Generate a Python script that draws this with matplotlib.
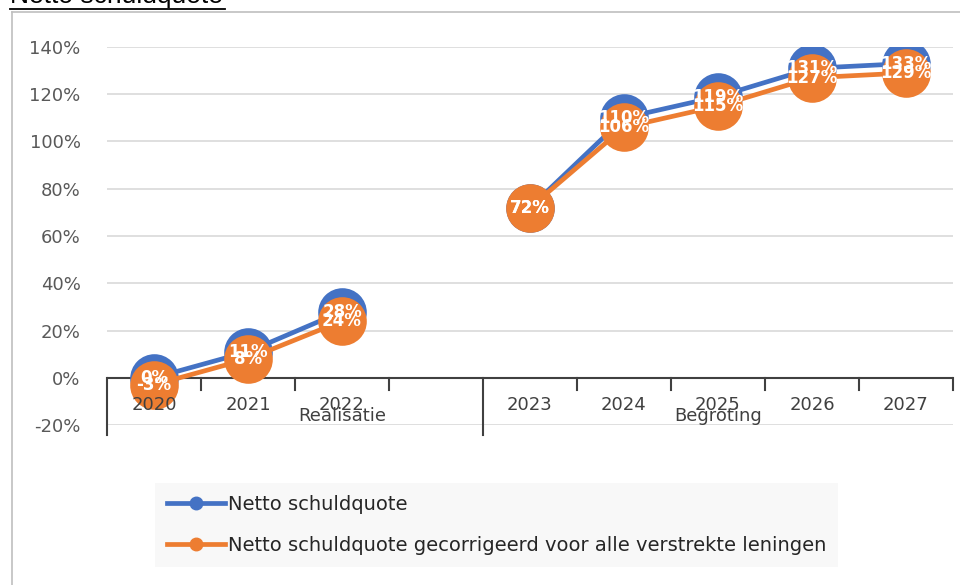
import numpy as np
import matplotlib
matplotlib.use("Agg")
import matplotlib.pyplot as plt
from matplotlib.lines import Line2D

# ---- data ----
years = ["2020", "2021", "2022", "", "2023", "2024", "2025", "2026", "2027"]
groups = ["Realisatie", "Begroting"]
group_spans = [(0, 3), (4, 8)]  # index ranges (inclusive)
netto = [0, 11, 28, None, 72, 110, 119, 131, 133]
netto_gecorr = [-3, 8, 24, None, 72, 106, 115, 127, 129]
series_names = ["Netto schuldquote",
                "Netto schuldquote gecorrigeerd voor alle verstrekte leningen"]
yticks = [-20, 0, 20, 40, 60, 80, 100, 120, 140]

BLUE = "#4472C4"
ORANGE = "#ED7D31"

W, H = 960, 585
fig = plt.figure(figsize=(W / 100, H / 100), dpi=100)

def fx(px):
    return px / W

def fy(py):
    return 1 - py / H

# chart border
fig.add_artist(plt.Line2D([fx(12), fx(12)], [fy(12), fy(600)], color="#BFBFBF", lw=1.2))
fig.add_artist(plt.Line2D([fx(12), fx(962)], [fy(12), fy(12)], color="#BFBFBF", lw=1.2))

# title (cut off at top, underlined)
fig.text(fx(10), fy(3.5), "Netto schuldquote", fontsize=19, family="Liberation Sans",
         color="black", va="baseline", ha="left")
fig.add_artist(plt.Line2D([fx(10), fx(225)], [fy(8.5), fy(8.5)], color="black", lw=1.3))

ax = fig.add_axes([fx(107), fy(425), fx(953) - fx(107), fy(47) - fy(425)])
ax.set_xlim(-0.5, len(years) - 0.5)
ax.set_ylim(-20, 140)
for s in ax.spines.values():
    s.set_visible(False)
ax.set_xticks([])
ax.set_yticks(yticks)
ax.set_yticklabels([f"{v}%" for v in yticks], fontsize=13, color="#595959")
ax.tick_params(axis="y", length=0, pad=19)
for v in yticks:
    if v != 0:
        ax.axhline(v, color="#D9D9D9", lw=1.2, zorder=0)
ax.axhline(0, color="#404040", lw=1.5, zorder=1)

x = np.arange(len(years))
def arr(vals):
    return np.array([np.nan if v is None else v for v in vals], dtype=float)

for vals, col in [(netto, BLUE), (netto_gecorr, ORANGE)]:
    ax.plot(x, arr(vals), color=col, lw=3.4, marker="o", markersize=35,
            markeredgewidth=0, zorder=3, solid_capstyle="round")

for vals in [netto, netto_gecorr]:
    for xi, v in zip(x, vals):
        if v is None:
            continue
        ax.text(xi, v, f"{v}%", color="white", fontsize=12, fontweight="bold",
                ha="center", va="center", zorder=5)

# category axis: ticks, year labels, group labels
sep_positions = [group_spans[0][0] - 0.5, group_spans[1][0] - 0.5]
for i in range(len(years) + 1):
    xp = i - 0.5
    if xp in sep_positions:
        ax.plot([xp, xp], [0, -24.2], color="#404040", lw=1.5, clip_on=False, zorder=2)
    else:
        ax.plot([xp, xp], [0, -5.2], color="#404040", lw=1.5, clip_on=False, zorder=2)
for xi, lab in zip(x, years):
    if lab:
        ax.text(xi, -11.5, lab, ha="center", va="center", fontsize=13, color="#404040",
                clip_on=False)
for g, (a, b) in zip(groups, group_spans):
    ax.text((a + b) / 2 - (0 if g == "Begroting" else -0.5), -16.3, g, ha="center",
            va="center", fontsize=13, color="#404040", clip_on=False)

# legend
handles = [Line2D([0], [0], color=c, lw=3.4, marker="o", markersize=9)
           for c in (BLUE, ORANGE)]
leg = fig.legend(handles, series_names, loc="upper left",
                 bbox_to_anchor=(fx(155), fy(483)), borderaxespad=0,
                 fontsize=14, frameon=True, fancybox=False,
                 handlelength=3.0, handletextpad=0.15, labelspacing=1.15,
                 borderpad=0.6)
leg.get_frame().set_facecolor("#F7F7F7")
leg.get_frame().set_edgecolor("none")
for t in leg.get_texts():
    t.set_color("#262626")

fig.savefig("out.png", dpi=100)
